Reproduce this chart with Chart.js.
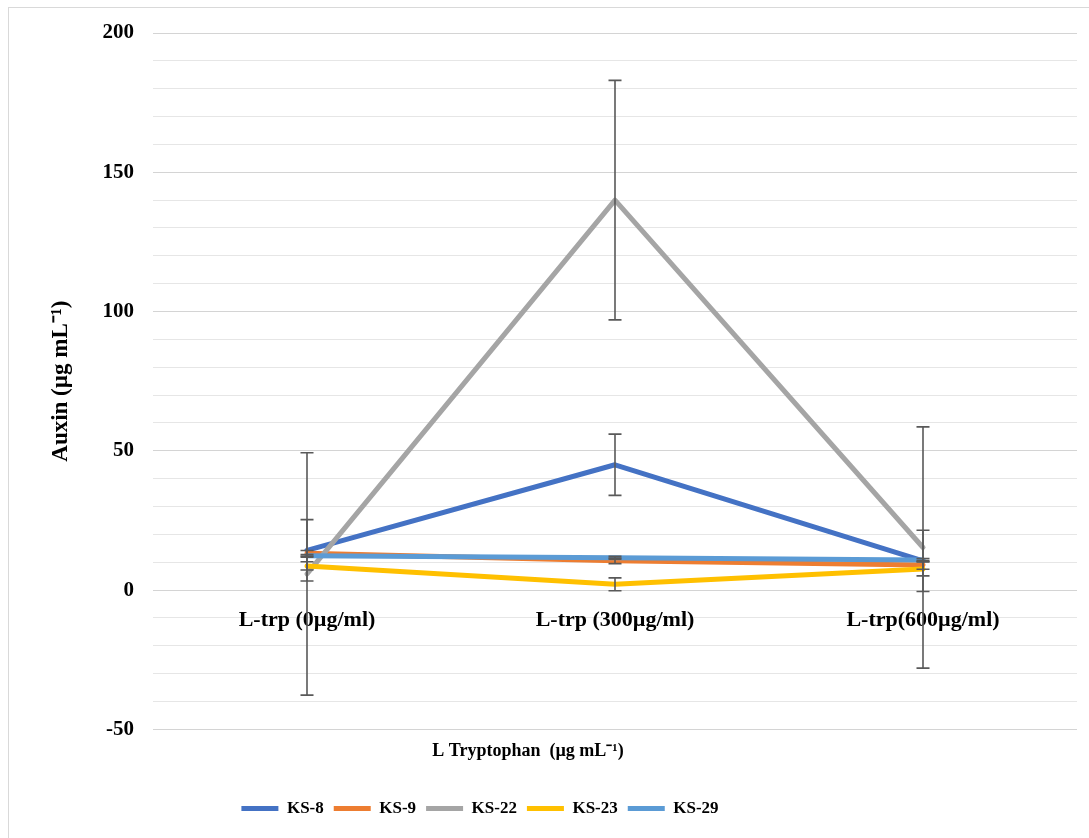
<!DOCTYPE html>
<html>
<head>
<meta charset="utf-8">
<script src="https://cdn.jsdelivr.net/npm/chart.js@4"></script>
<style>
  html, body { margin: 0; padding: 0; background: #ffffff; }
  #wrap { position: relative; width: 1089px; height: 838px; overflow: hidden; }
  #frame { position: absolute; left: 8px; top: 7px; width: 1100px; height: 900px;
           border-left: 1px solid #d9d9d9; border-top: 1px solid #d9d9d9; pointer-events: none; }
  canvas { position: absolute; left: 0; top: 0; }
</style>
</head>
<body>
<div id="wrap">
  <canvas id="c"></canvas>
  <div id="frame"></div>
</div>
<script>
// ---- data ----
const categories = ['L-trp (0µg/ml)', 'L-trp (300µg/ml)', 'L-trp(600µg/ml)'];
const seriesNames = ['KS-8', 'KS-9', 'KS-22', 'KS-23', 'KS-29'];
const ks8 = [14.3, 45.0, 10.5];
const ks9 = [13.2, 10.5, 9.0];
const ks22 = [5.8, 140.0, 15.3];
const ks23 = [8.7, 2.1, 7.6];
const ks29 = [12.3, 11.6, 10.8];
const ks8Err = [11.0, 11.0, 11.0];
const ks9Err = [1.0, 1.0, 1.5];
const ks22Err = [43.5, 43.0, 43.3];
const ks23Err = [1.5, 2.3, 2.5];
const ks29Err = [0.5, 0.5, 0.5];
const yTickLabels = [-50, 0, 50, 100, 150, 200];
const yTitle = 'Auxin (µg mL⁻¹)';
const xTitle = 'L Tryptophan  (µg mL⁻¹)';

const seriesValues = [ks8, ks9, ks22, ks23, ks29];
const seriesErrors = [ks8Err, ks9Err, ks22Err, ks23Err, ks29Err];
const colors = ['#4472C4', '#ED7D31', '#A5A5A5', '#FFC000', '#5B9BD5'];

const FONT = '"Liberation Serif", "Times New Roman", serif';

const datasets = seriesNames.map((name, i) => ({
  label: name,
  data: seriesValues[i],
  borderColor: colors[i],
  backgroundColor: colors[i],
  borderWidth: 5,
  borderCapStyle: 'round',
  borderJoinStyle: 'round',
  pointRadius: 0,
  pointHoverRadius: 0,
  tension: 0,
  fill: false,
  order: seriesNames.length - i,
  errors: seriesErrors[i]
}));

const errorBars = {
  id: 'errorBars',
  afterDatasetsDraw(chart) {
    const ctx = chart.ctx;
    const yScale = chart.scales.y;
    ctx.save();
    ctx.strokeStyle = '#595959';
    ctx.lineWidth = 1.6;
    chart.data.datasets.forEach((ds, i) => {
      const meta = chart.getDatasetMeta(i);
      ds.data.forEach((v, j) => {
        const e = ds.errors[j];
        const x = meta.data[j].x;
        const yt = yScale.getPixelForValue(v + e);
        const yb = yScale.getPixelForValue(v - e);
        ctx.beginPath();
        ctx.moveTo(x, yt); ctx.lineTo(x, yb);
        ctx.moveTo(x - 6.5, yt); ctx.lineTo(x + 6.5, yt);
        ctx.moveTo(x - 6.5, yb); ctx.lineTo(x + 6.5, yb);
        ctx.stroke();
      });
    });
    ctx.restore();
  }
};

const shiftBlocks = {
  id: 'shiftBlocks',
  afterLayout(chart) {
    if (chart.legend) { chart.legend.left = 0; chart.legend.right = 960; chart.legend.width = 960; }
    if (chart.titleBlock) { chart.titleBlock.left = 0; chart.titleBlock.right = 1056; chart.titleBlock.width = 1056; }
  }
};

const canvas = document.getElementById('c');
canvas.width = 1089; canvas.height = 838;
canvas.style.width = '1089px'; canvas.style.height = '838px';

new Chart(canvas, {
  type: 'line',
  data: { labels: categories, datasets },
  plugins: [errorBars, shiftBlocks],
  options: {
    responsive: false,
    animation: false,
    devicePixelRatio: 1,
    layout: { padding: { top: 33, right: 12, bottom: 11, left: 0 } },
    plugins: {
      tooltip: { enabled: false },
      legend: {
        position: 'bottom',
        labels: {
          usePointStyle: true,
          pointStyle: 'line',
          pointStyleWidth: 37,
          padding: 10,
          color: '#000000',
          sort: (a, b) => a.datasetIndex - b.datasetIndex,
          font: { family: FONT, size: 17, weight: 'bold' }
        }
      },
      title: {
        display: true,
        position: 'bottom',
        weight: 500,
        text: xTitle,
        color: '#000000',
        padding: { top: 11, bottom: 28 },
        font: { family: FONT, size: 18, weight: 'bold' }
      }
    },
    scales: {
      x: {
        type: 'category',
        position: { y: 0 },
        offset: true,
        grid: { display: false, drawTicks: false },
        border: { display: false },
        ticks: {
          padding: 17,
          color: '#000000',
          maxRotation: 0,
          autoSkip: false,
          font: { family: FONT, size: 22, weight: 'bold' }
        }
      },
      y: {
        min: -50,
        max: 200,
        afterFit(scale) { scale.width = 153; },
        grid: {
          drawTicks: false,
          color: (c) => (c.tick && c.tick.value % 50 === 0) ? '#d4d4d4' : '#e6e6e6',
          lineWidth: 1
        },
        border: { display: false },
        ticks: {
          stepSize: 10,
          autoSkip: false,
          padding: 19,
          color: '#000000',
          font: { family: FONT, size: 21, weight: 'bold' },
          callback: (v) => yTickLabels.includes(v) ? String(v) : ''
        },
        title: {
          display: true,
          text: yTitle,
          color: '#000000',
          padding: { top: 47, bottom: 0 },
          font: { family: FONT, size: 23, weight: 'bold' }
        }
      }
    }
  }
});
</script>
</body>
</html>
